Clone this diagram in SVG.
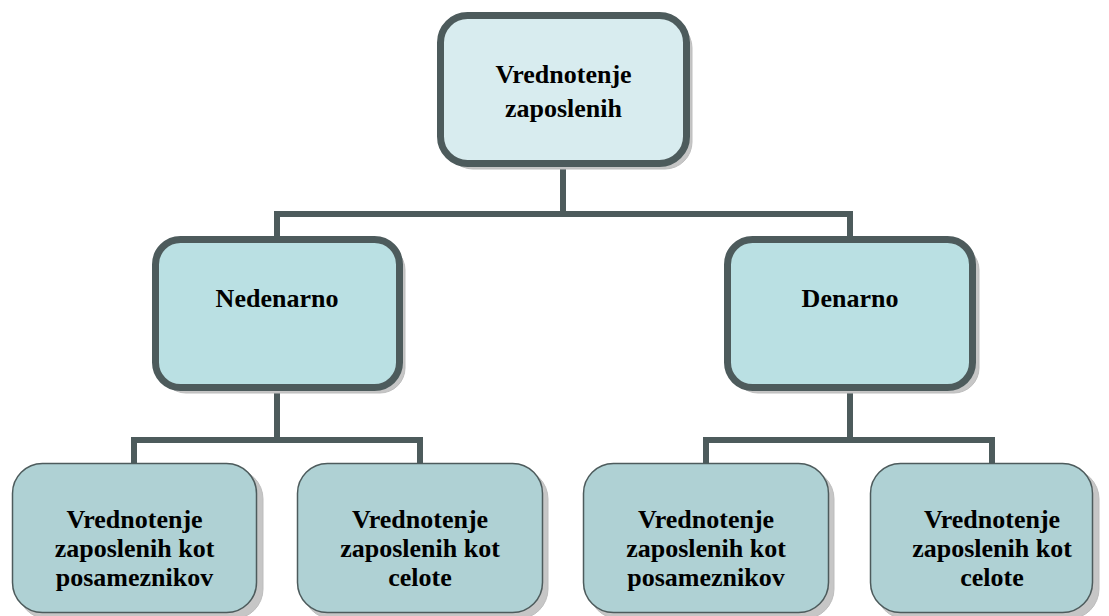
<svg xmlns="http://www.w3.org/2000/svg" width="1109" height="616" viewBox="0 0 1109 616">
  <defs>
    <style>
      .shadow { fill: #c6c6c6; stroke: #bdbdbd; stroke-width: 1; }
      .main { stroke: #4d5b5c; stroke-width: 7; }
      .top { fill: #d8ecef; }
      .mid { fill: #bae0e3; }
      .leaf { fill: #afd1d4; stroke: #4d5b5c; stroke-width: 1.5; }
      .lbl { font-family: "Liberation Serif", "Times New Roman", serif; font-weight: bold; font-size: 26px; fill: #000; text-anchor: middle; }
      .wire { fill: none; stroke: #4d5b5c; stroke-width: 6; stroke-linejoin: miter; stroke-linecap: butt; }
    </style>
  </defs>
  <rect width="1109" height="616" fill="#ffffff"/>

  <!-- connectors -->
  <g id="connectors">
    <path class="wire" d="M563 167 V214 M277 239 V214 H850 V239"/>
    <path class="wire" d="M277 390 V440 M134 466 V440 H420 V466"/>
    <path class="wire" d="M850 390 V440 M706 466 V440 H992 V466"/>
  </g>

  <!-- root -->
  <g id="node-root">
    <rect class="shadow" x="446" y="21" width="246" height="148" rx="27"/>
    <rect class="main top" x="440.5" y="15.5" width="246" height="148" rx="27"/>
    <text class="lbl" x="563.5" y="83">Vrednotenje</text>
    <text class="lbl" x="563.5" y="117">zaposlenih</text>
  </g>

  <!-- second level -->
  <g id="node-nedenarno">
    <rect class="shadow" x="161" y="245" width="244" height="148" rx="25"/>
    <rect class="main mid" x="155.5" y="239.5" width="244" height="148" rx="25"/>
    <text class="lbl" x="277" y="307">Nedenarno</text>
  </g>
  <g id="node-denarno">
    <rect class="shadow" x="733" y="245" width="246" height="148" rx="25"/>
    <rect class="main mid" x="727.5" y="239.5" width="245" height="148" rx="25"/>
    <text class="lbl" x="850" y="307">Denarno</text>
  </g>

  <!-- leaves -->
  <g id="node-leaf-1">
    <rect class="shadow" x="18" y="469" width="245" height="150" rx="30"/>
    <rect class="leaf" x="12.5" y="463.5" width="244" height="149" rx="30"/>
    <text class="lbl" x="134.5" y="528">Vrednotenje</text>
    <text class="lbl" x="134.5" y="557">zaposlenih kot</text>
    <text class="lbl" x="134.5" y="586">posameznikov</text>
  </g>
  <g id="node-leaf-2">
    <rect class="shadow" x="303" y="469" width="245" height="150" rx="30"/>
    <rect class="leaf" x="297.5" y="463.5" width="245" height="149" rx="30"/>
    <text class="lbl" x="420" y="528">Vrednotenje</text>
    <text class="lbl" x="420" y="557">zaposlenih kot</text>
    <text class="lbl" x="420" y="586">celote</text>
  </g>
  <g id="node-leaf-3">
    <rect class="shadow" x="589" y="469" width="245" height="150" rx="30"/>
    <rect class="leaf" x="583.5" y="463.5" width="245" height="149" rx="30"/>
    <text class="lbl" x="706" y="528">Vrednotenje</text>
    <text class="lbl" x="706" y="557">zaposlenih kot</text>
    <text class="lbl" x="706" y="586">posameznikov</text>
  </g>
  <g id="node-leaf-4">
    <rect class="shadow" x="876" y="469" width="223" height="150" rx="30"/>
    <rect class="leaf" x="870.5" y="463.5" width="222" height="149" rx="30"/>
    <text class="lbl" x="992" y="528">Vrednotenje</text>
    <text class="lbl" x="992" y="557">zaposlenih kot</text>
    <text class="lbl" x="992" y="586">celote</text>
  </g>
</svg>
